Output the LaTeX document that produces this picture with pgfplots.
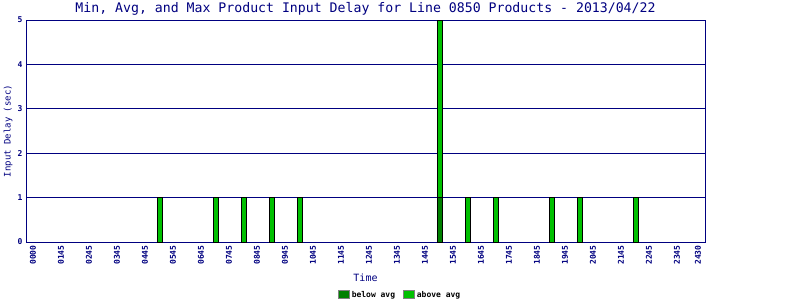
\documentclass[border=0pt]{standalone}
\usepackage{pgfplots}
\pgfplotsset{compat=1.18}
\usepackage{fontspec}
\setmainfont{DejaVu Sans Mono}
\definecolor{navy}{RGB}{0,0,128}
\definecolor{lgreen}{RGB}{0,192,0}
\definecolor{dgreen}{RGB}{0,128,0}
\begin{document}
\begin{tikzpicture}[x=1pt,y=1pt]
\useasboundingbox (-26,-58) rectangle (774,242);
\begin{axis}[scale only axis,
  width=679pt, height=222pt,
  xmin=-0.25, xmax=24, ymin=0, ymax=5,
  axis line style={navy, line width=0.9pt},
  major tick length=0pt,
  /pgf/number format/assume math mode=true,
  xtick={0,1,2,3,4,5,6,7,8,9,10,11,12,13,14,15,16,17,18,19,20,21,22,23,23.75},
  xticklabels={0000,0145,0245,0345,0445,0545,0645,0745,0845,0945,1045,1145,1245,1345,1445,1545,1645,1745,1845,1945,2045,2145,2245,2345,2430},
  ytick={0,1,2,3,4,5},
  ymajorgrids, grid style={navy, line width=0.9pt},
  xticklabel style={rotate=90, anchor=east, font=\fontsize{8}{9}\selectfont\bfseries, text=navy},
  yticklabel style={font=\fontsize{8}{9}\selectfont\bfseries, text=navy},
  xlabel={Time}, ylabel={Input Delay (sec)},
  xlabel style={at={(axis description cs:0.5,-0.162)}, anchor=center, font=\fontsize{10}{11}\selectfont, text=navy},
  ylabel style={at={(axis description cs:-0.0265,0.5)}, anchor=center, font=\fontsize{9}{10}\selectfont, text=navy},
  legend columns=2,
  legend style={at={(axis description cs:0.551,-0.239)}, anchor=center, draw=none, fill=none,
    font=\fontsize{8}{9}\selectfont\bfseries, text=black,
    /tikz/every even column/.append style={column sep=6pt}},
  legend image code/.code={\draw[#1, draw=gray, line width=0.8pt] (0pt,-3.5pt) rectangle (11pt,4.5pt);},
]
\addlegendimage{fill=dgreen}
\addlegendentry{below avg}
\addlegendimage{fill=lgreen}
\addlegendentry{above avg}
\addplot[ybar, bar width=5pt, bar shift=0pt, fill=lgreen, draw=black, line width=0.8pt, forget plot]
  coordinates {(4.54,1) (6.54,1) (7.54,1) (8.54,1) (9.54,1) (14.54,5) (15.54,1) (16.54,1) (18.54,1) (19.54,1) (21.54,1)};
\addplot[ybar, bar width=5pt, bar shift=0pt, fill=dgreen, draw=black, line width=0.8pt, forget plot]
  coordinates {(14.54,1)};
\end{axis}
\node[anchor=base, inner sep=0pt, font=\fontsize{13.2}{14}\selectfont, text=navy] at (339.5,229) {Min, Avg, and Max Product Input Delay for Line 0850 Products - 2013/04/22};
\end{tikzpicture}
\end{document}
